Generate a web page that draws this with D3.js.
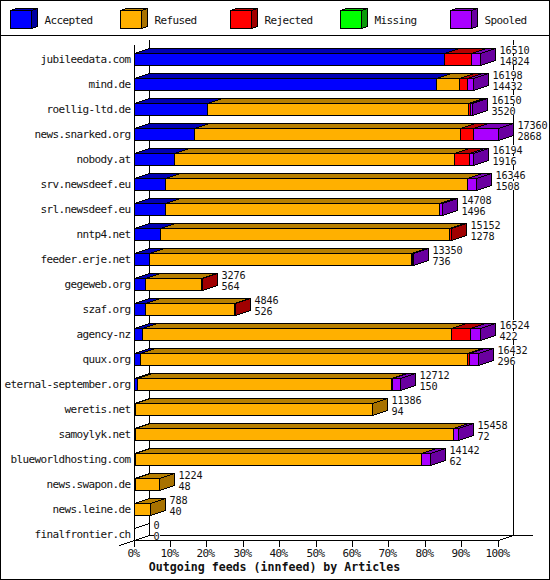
<!DOCTYPE html>
<html>
<head>
<meta charset="utf-8">
<script src="https://cdn.jsdelivr.net/npm/d3@7"></script>
<style>
html,body{margin:0;padding:0;background:#fff}
svg{display:block}
text{font-family:"DejaVu Sans Mono",monospace;font-size:11px;letter-spacing:-0.62px;fill:#111}
text.value{font-size:10.2px;letter-spacing:-0.14px}
</style>
</head>
<body>
<div id="chart"></div>
<script>
const categories = ["jubileedata.com","mind.de","roellig-ltd.de","news.snarked.org","nobody.at","srv.newsdeef.eu","srl.newsdeef.eu","nntp4.net","feeder.erje.net","gegeweb.org","szaf.org","agency-nz","quux.org","eternal-september.org","weretis.net","samoylyk.net","blueworldhosting.com","news.swapon.de","news.leine.de","finalfrontier.ch"];
const accepted = [14824,14432,3520,2868,1916,1508,1496,1278,736,564,526,422,296,150,94,72,62,48,40,0];
const refused  = [0,1080,12421,12688,13357,14394,13061,13754,12502,2660,4280,14709,15597,12139,11292,15153,13653,1176,748,0];
const rejected = [1290,382,95,620,716,0,0,120,50,52,40,926,95,43,0,0,0,0,0,0];
const missing  = [0,0,0,0,0,0,0,0,0,0,0,0,0,0,0,0,0,0,0,0];
const spooled  = [396,304,114,1184,205,444,151,0,62,0,0,467,444,380,0,233,427,0,0,0];
const totals   = [16510,16198,16150,17360,16194,16346,14708,15152,13350,3276,4846,16524,16432,12712,11386,15458,14142,1224,788,0];
const seriesNames = ["Accepted","Refused","Rejected","Missing","Spooled"];
const seriesFront = ["#0000ff","#ffb000","#ff0000","#00ff00","#aa00ff"];
const seriesTop   = ["#0000b4","#b88000","#b40000","#00b400","#7800b4"];
const seriesSide  = ["#0000a0","#a87200","#a00000","#0a9a0a","#6a00a0"];
const percentTicks = [0,10,20,30,40,50,60,70,80,90,100];
const xTitle = "Outgoing feeds (innfeed) by Articles";

const W = 550, H = 580, DX = 15, DY = 5;
const xLeft = 134, xRight = 498, yTop = 40, yBottom = 540;
const series = [accepted, refused, rejected, missing, spooled];

const svg = d3.select("#chart").append("svg").attr("width", W).attr("height", H);
const x = d3.scaleLinear().domain([0, d3.max(totals)]).range([xLeft, xRight]);
const pct = d3.scaleLinear().domain([0, 100]).range([xLeft, xRight]);
const y = d3.scaleBand().domain(categories).range([yTop, yBottom]);
const snap = v => Math.floor(v) + 0.5;

function line(g, x1, y1, x2, y2) {
  g.append("line").attr("x1", x1).attr("y1", y1).attr("x2", x2).attr("y2", y2)
    .attr("stroke", "#000").attr("stroke-width", 1).attr("shape-rendering", "crispEdges");
}
function poly(g, pts, fill) {
  g.append("polygon").attr("points", pts.map(p => p.join(",")).join(" "))
    .attr("fill", fill).attr("stroke", "#000").attr("stroke-width", 1)
    .attr("shape-rendering", "crispEdges");
}

// frame
svg.append("rect").attr("x", 0.5).attr("y", 0.5).attr("width", W - 1).attr("height", H - 1)
  .attr("fill", "#fff").attr("stroke", "#000").attr("shape-rendering", "crispEdges");
line(svg, 0, 35.5, W, 35.5);

// legend
const legend = svg.append("g");
seriesNames.forEach((name, i) => {
  const lx = 10.5 + i * 110, ly = 10.5, w = 21, h = 18, dx = 6, dy = 2;
  poly(legend, [[lx, ly], [lx + dx, ly - dy], [lx + w + dx, ly - dy], [lx + w, ly]], seriesTop[i]);
  poly(legend, [[lx + w, ly], [lx + w + dx, ly - dy], [lx + w + dx, ly + h - dy], [lx + w, ly + h]], seriesSide[i]);
  poly(legend, [[lx, ly], [lx + w, ly], [lx + w, ly + h], [lx, ly + h]], seriesFront[i]);
  legend.append("text").attr("x", lx + 34).attr("y", 24).text(name);
});

// walls and floor
const axes = svg.append("g");
const x0 = snap(pct(0)), x100 = snap(pct(100)), yF = yBottom + 0.5, yB = yBottom - DY + 0.5;
line(axes, x0, yTop + DY, x0, yF);
line(axes, x0 + DX, yTop, x0 + DX, yB);
line(axes, x100 + DX, yTop, x100 + DX, yB);
line(axes, x0 + DX, yB, x100 + DX + 19, yB);
line(axes, x0, yF, x100, yF);
line(axes, x100, yF, x100 + DX, yB);
line(axes, x0 - 15, yF + DY, x0 + DX, yB);

// x axis ticks
const axisG = svg.append("g");
percentTicks.forEach(t => {
  const tx = snap(pct(t));
  line(axisG, tx, yF, tx, yF + 6);
  axisG.append("text").attr("x", tx - 1).attr("y", 557).attr("text-anchor", "middle").text(t + "%");
});
axisG.append("text").attr("x", 274.5).attr("y", 571).attr("text-anchor", "middle")
  .style("font-size", "11.6px").style("letter-spacing", "0").style("font-weight", "bold").text(xTitle);

// rows
categories.forEach((cat, r) => {
  const g = svg.append("g");
  const t = Math.round(y(cat)) + 13.5, b = t + 12;
  g.append("text").attr("x", 130.5).attr("y", t + 9.5).attr("text-anchor", "end").text(cat);

  let cum = 0;
  series.forEach((s, i) => {
    const v = s[r];
    if (!v) return;
    const a = snap(x(cum)), e = snap(x(cum + v));
    cum += v;
    poly(g, [[a, t], [a + DX, t - DY], [e + DX, t - DY], [e, t]], seriesTop[i]);
    poly(g, [[e, t], [e + DX, t - DY], [e + DX, b - DY], [e, b]], seriesSide[i]);
    poly(g, [[a, t], [e, t], [e, b], [a, b]], seriesFront[i]);
  });
  if (totals[r] === 0) {
    const e = snap(x(0));
    poly(g, [[e, t], [e + DX, t - DY], [e + DX, b - DY], [e, b]], "none");
  }

  const lx = snap(x(totals[r])) + DX + 4;
  [[String(totals[r]), t - 8], [String(accepted[r]), t + 3]].forEach(([label, ty]) => {
    g.append("rect").attr("x", lx).attr("y", ty - 0.5).attr("width", label.length * 6).attr("height", 9)
      .attr("fill", "#fff").attr("shape-rendering", "crispEdges");
    g.append("text").attr("class", "value").attr("x", lx).attr("y", ty + 8).text(label);
  });
});
</script>
</body>
</html>
